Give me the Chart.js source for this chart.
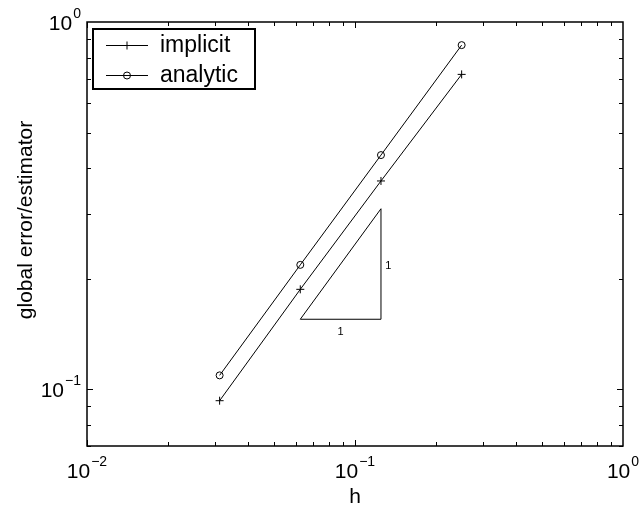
<!DOCTYPE html>
<html>
<head>
<meta charset="utf-8">
<script src="https://cdn.jsdelivr.net/npm/chart.js@4/dist/chart.umd.min.js"></script>
<style>
  html, body { margin: 0; padding: 0; background: #fff; }
  #wrap { width: 639px; height: 506px; }
</style>
</head>
<body>
<div id="wrap"><canvas id="errChart" width="639" height="506"></canvas></div>
<script>
// mesh sizes and errors
const hValues = [0.03125, 0.0625, 0.125, 0.25];
const implicitErr = [0.093, 0.187, 0.369, 0.72];
const analyticErr = [0.109, 0.218, 0.434, 0.865];

// slope triangle
const triangleX = [0.0625, 0.125, 0.125, 0.0625];
const triangleY = [0.155, 0.155, 0.31, 0.155];
const slopeLabelX = [0.0884, 0.133];
const slopeLabelY = [0.143, 0.216];
const slopeLabels = ['1', '1'];

// axis ticks
const xTickValues = [0.01, 0.1, 1];
const xTickExps = ['\u22122', '\u22121', '0'];
const yTickValues = [0.1, 1];
const yTickExps = ['\u22121', '0'];

const legendLabels = ['implicit', 'analytic'];
const legendMarkers = ['cross', 'circle'];

const FONT = '"Liberation Sans", Arial, Helvetica, sans-serif';

function toPoints(xs, ys) {
    return xs.map((x, i) => ({ x: x, y: ys[i] }));
}

// draws a marker the same way as the datasets do
function drawMarker(ctx, style, x, y) {
    ctx.beginPath();
    if (style === 'cross') {
        ctx.moveTo(x - 4, y); ctx.lineTo(x + 4, y);
        ctx.moveTo(x, y - 4); ctx.lineTo(x, y + 4);
    } else {
        ctx.arc(x, y, 3.5, 0, Math.PI * 2);
    }
    ctx.stroke();
}

// 10^n label, anchored by align ('center' or 'right')
function drawPowerLabel(ctx, exp, x, baseline, align) {
    ctx.font = '21px ' + FONT;
    const wBase = ctx.measureText('10').width;
    ctx.font = '14px ' + FONT;
    const wExp = ctx.measureText(exp).width;
    const total = wBase + wExp + 1;
    let left = align === 'right' ? x - total : x - total / 2;
    ctx.textAlign = 'left';
    ctx.textBaseline = 'alphabetic';
    ctx.font = '21px ' + FONT;
    ctx.fillText('10', left, baseline);
    ctx.font = '14px ' + FONT;
    ctx.fillText(exp, left + wBase + 1, baseline - 12);
}

const framePlugin = {
    id: 'matlabFrame',
    afterDraw(chart) {
        const ctx = chart.ctx;
        const xs = chart.scales.x;
        const ys = chart.scales.y;
        const a = chart.chartArea;
        ctx.save();
        ctx.strokeStyle = '#000';
        ctx.fillStyle = '#000';

        // box
        ctx.lineWidth = 1.5;
        ctx.strokeRect(a.left, a.top, a.right - a.left, a.bottom - a.top);

        // inward ticks on all four sides
        ctx.lineWidth = 1;
        ctx.beginPath();
        for (let d = -2; d < 0; d++) {
            for (let m = 1; m <= 9; m++) {
                const v = m * Math.pow(10, d);
                const len = m === 1 ? 6 : 4;
                const px = Math.round(xs.getPixelForValue(v)) + 0.5;
                ctx.moveTo(px, a.bottom); ctx.lineTo(px, a.bottom - len);
                ctx.moveTo(px, a.top); ctx.lineTo(px, a.top + len);
            }
        }
        for (let d = -2; d < 0; d++) {
            for (let m = 1; m <= 9; m++) {
                const v = m * Math.pow(10, d);
                if (v < ys.min || v > ys.max) continue;
                const len = m === 1 ? 6 : 4;
                const py = Math.round(ys.getPixelForValue(v)) + 0.5;
                ctx.moveTo(a.left, py); ctx.lineTo(a.left + len, py);
                ctx.moveTo(a.right, py); ctx.lineTo(a.right - len, py);
            }
        }
        ctx.stroke();

        // tick labels
        xTickValues.forEach((v, i) => {
            drawPowerLabel(ctx, xTickExps[i], xs.getPixelForValue(v), a.bottom + 32, 'center');
        });
        yTickValues.forEach((v, i) => {
            drawPowerLabel(ctx, yTickExps[i], a.left - 6, ys.getPixelForValue(v) + 8, 'right');
        });

        // axis titles
        ctx.font = '21px ' + FONT;
        ctx.textAlign = 'center';
        ctx.textBaseline = 'alphabetic';
        ctx.fillText('h', (a.left + a.right) / 2, 503);
        ctx.save();
        ctx.translate(32, 220);
        ctx.rotate(-Math.PI / 2);
        ctx.fillText('global error/estimator', 0, 0);
        ctx.restore();

        // slope labels
        ctx.font = '11px ' + FONT;
        ctx.textBaseline = 'middle';
        slopeLabels.forEach((t, i) => {
            ctx.fillText(t, xs.getPixelForValue(slopeLabelX[i]), ys.getPixelForValue(slopeLabelY[i]));
        });

        // legend
        const lx = 93, ly = 29, lw = 162, lh = 60;
        ctx.fillStyle = '#fff';
        ctx.fillRect(lx, ly, lw, lh);
        ctx.lineWidth = 2;
        ctx.strokeRect(lx, ly, lw, lh);
        ctx.lineWidth = 1;
        ctx.fillStyle = '#000';
        ctx.font = '23px ' + FONT;
        ctx.textAlign = 'left';
        legendLabels.forEach((label, i) => {
            const rowY = 45 + i * 30;
            ctx.beginPath();
            ctx.moveTo(106, rowY + 0.5);
            ctx.lineTo(148, rowY + 0.5);
            ctx.stroke();
            drawMarker(ctx, legendMarkers[i], 127, rowY + 0.5);
            ctx.fillText(label, 160, rowY + 1);
        });
        ctx.restore();
    }
};

const ctx = document.getElementById('errChart').getContext('2d');
new Chart(ctx, {
    type: 'scatter',
    data: {
        datasets: [
            {
                label: 'implicit',
                data: toPoints(hValues, implicitErr),
                showLine: true,
                borderColor: '#000',
                borderWidth: 1,
                pointStyle: 'cross',
                pointRadius: 4,
                pointBorderColor: '#000',
                pointBorderWidth: 1
            },
            {
                label: 'analytic',
                data: toPoints(hValues, analyticErr),
                showLine: true,
                borderColor: '#000',
                borderWidth: 1,
                pointStyle: 'circle',
                pointRadius: 3.5,
                pointBackgroundColor: 'rgba(0,0,0,0)',
                pointBorderColor: '#000',
                pointBorderWidth: 1
            },
            {
                label: 'slope',
                data: toPoints(triangleX, triangleY),
                showLine: true,
                borderColor: '#000',
                borderWidth: 1,
                pointRadius: 0
            }
        ]
    },
    options: {
        responsive: false,
        animation: false,
        devicePixelRatio: 1,
        layout: { padding: { left: 87, right: 16, top: 22, bottom: 60 } },
        plugins: {
            legend: { display: false },
            tooltip: { enabled: false }
        },
        scales: {
            x: { type: 'logarithmic', min: 0.01, max: 1, display: false },
            y: { type: 'logarithmic', min: 0.07, max: 1, display: false }
        }
    },
    plugins: [framePlugin]
});
</script>
</body>
</html>
